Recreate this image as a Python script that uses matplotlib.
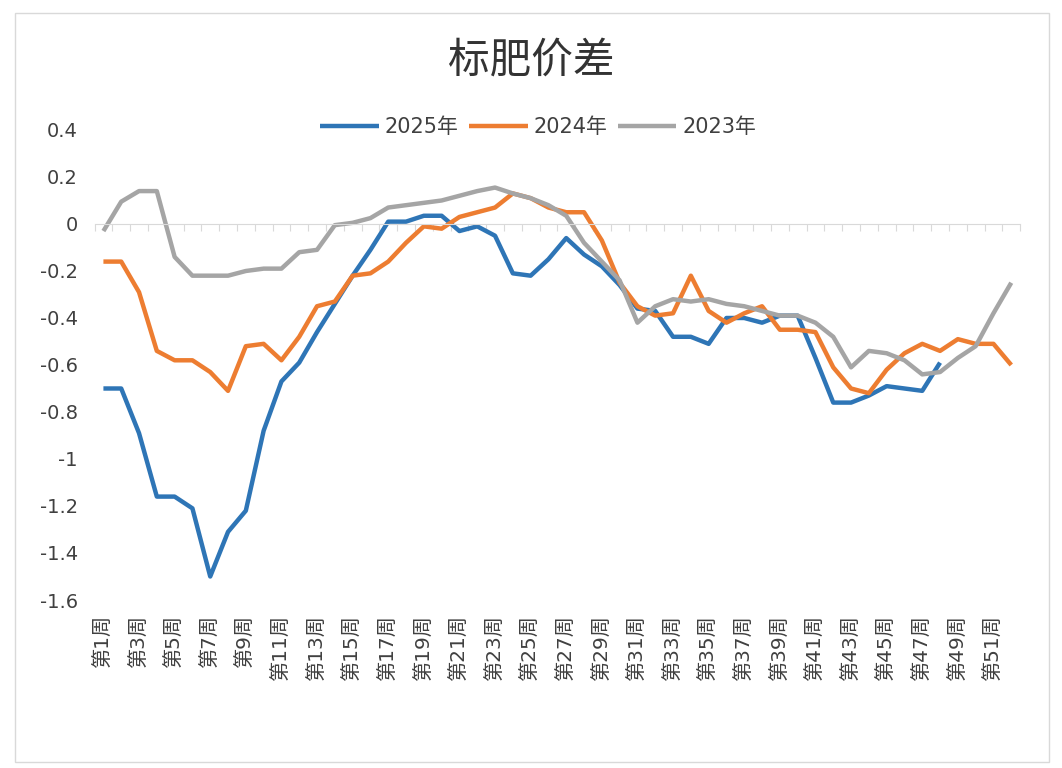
import matplotlib
matplotlib.use("Agg")
import matplotlib.pyplot as plt
from matplotlib.patches import Rectangle

plt.rcParams['font.family'] = ['DejaVu Sans', 'Noto Sans CJK SC']

# Data (weekly spread)
weeks = list(range(1, 53))
y2025 = [-0.70, -0.70, -0.89, -1.16, -1.16, -1.21, -1.50, -1.31, -1.22, -0.88,
         -0.67, -0.59, -0.46, -0.34, -0.22, -0.11, 0.01, 0.01, 0.035, 0.035,
         -0.03, -0.01, -0.05, -0.21, -0.22, -0.15, -0.06, -0.13, -0.18, -0.26,
         -0.36, -0.37, -0.48, -0.48, -0.51, -0.40, -0.40, -0.42, -0.39, -0.39,
         -0.57, -0.76, -0.76, -0.73, -0.69, -0.70, -0.71, -0.59]
y2024 = [-0.16, -0.16, -0.29, -0.54, -0.58, -0.58, -0.63, -0.71, -0.52, -0.51,
         -0.58, -0.48, -0.35, -0.33, -0.22, -0.21, -0.16, -0.08, -0.01, -0.02,
         0.03, 0.05, 0.07, 0.13, 0.11, 0.07, 0.05, 0.05, -0.07, -0.25,
         -0.35, -0.39, -0.38, -0.22, -0.37, -0.42, -0.38, -0.35, -0.45, -0.45,
         -0.46, -0.61, -0.70, -0.72, -0.62, -0.55, -0.51, -0.54, -0.49, -0.51,
         -0.51, -0.60]
y2023 = [-0.03, 0.095, 0.14, 0.14, -0.14, -0.22, -0.22, -0.22, -0.20, -0.19,
         -0.19, -0.12, -0.11, -0.005, 0.005, 0.025, 0.07, 0.08, 0.09, 0.10,
         0.12, 0.14, 0.155, 0.13, 0.11, 0.08, 0.035, -0.08, -0.16, -0.24,
         -0.42, -0.35, -0.32, -0.33, -0.32, -0.34, -0.35, -0.37, -0.39, -0.39,
         -0.42, -0.48, -0.61, -0.54, -0.55, -0.58, -0.64, -0.63, -0.57, -0.52,
         -0.38, -0.25]

series_names = ['2025年', '2024年', '2023年']
week_labels = ['第%d周' % w for w in weeks]
y_ticks = [0.4, 0.2, 0, -0.2, -0.4, -0.6, -0.8, -1, -1.2, -1.4, -1.6]
y_labels = ['0.4', '0.2', '0', '-0.2', '-0.4', '-0.6', '-0.8', '-1', '-1.2', '-1.4', '-1.6']

colors = ['#2E75B6', '#ED7D31', '#A5A5A5']
text_color = '#404040'
axis_color = '#D9D9D9'

fig = plt.figure(figsize=(10.62, 7.68), dpi=100)
ax = fig.add_axes([0.089, 0.21875, 0.8716, 0.612])

for vals, name, c in zip([y2025, y2024, y2023], series_names, colors):
    ax.plot(weeks[:len(vals)], vals, color=c, linewidth=3.2, label=name,
            solid_joinstyle='round', solid_capstyle='butt')

ax.set_xlim(0.5, 52.5)
ax.set_ylim(-1.6, 0.4)

# y axis: labels only
ax.set_yticks(y_ticks, y_labels)
ax.tick_params(axis='y', length=0, pad=12, labelsize=14, labelcolor=text_color)
for s in ['left', 'right', 'top']:
    ax.spines[s].set_visible(False)

# category axis line sits at zero, tick marks between categories
ax.spines['bottom'].set_position(('data', 0))
ax.spines['bottom'].set_color(axis_color)
ax.set_xticks([w + 0.5 for w in [0] + weeks], [])
ax.tick_params(axis='x', direction='out', length=5, color=axis_color)

# week labels at the bottom of the plot area
sec = ax.secondary_xaxis('bottom')
sec.spines['bottom'].set_visible(False)
sec.set_xticks(weeks[::2], week_labels[::2], rotation=90)
sec.tick_params(length=0, pad=11, labelsize=14.5, labelcolor=text_color)

fig.text(0.5, 1 - 61 / 768, '标肥价差', family=['Noto Sans CJK SC', 'DejaVu Sans'],
         ha='center', va='center', fontsize=30, color='#333333')
fig.legend(loc='center', bbox_to_anchor=(0.507, 1 - 127 / 768), ncol=3,
           frameon=False, fontsize=15, handlelength=2.8, handletextpad=0.3,
           columnspacing=0.5, labelcolor=text_color)

fig.patches.append(Rectangle((15 / 1062, 1 - 762 / 768), 1034 / 1062, 749 / 768,
                             transform=fig.transFigure, fill=False,
                             edgecolor=axis_color, linewidth=1))

fig.savefig('out.png', dpi=100)
